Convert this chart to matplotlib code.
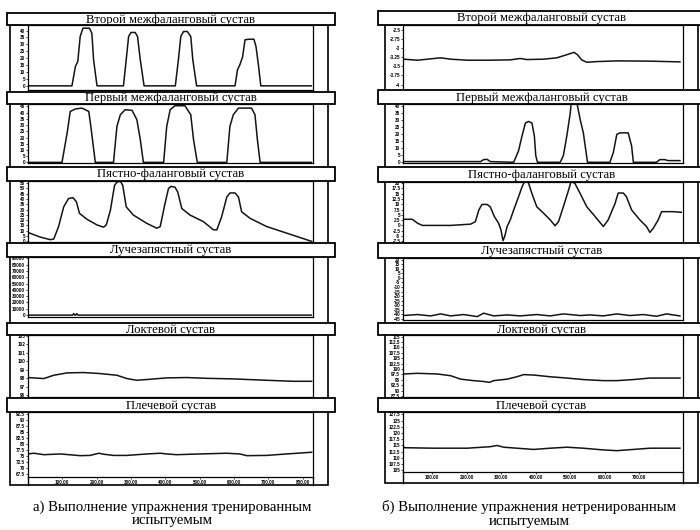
import matplotlib
matplotlib.use("Agg")
import matplotlib.pyplot as plt
from matplotlib.patches import Rectangle
from matplotlib.lines import Line2D

plt.rcParams['font.family'] = ['Liberation Serif', 'DejaVu Serif']

# названия суставов (заголовки панелей)
titles = ["Второй межфаланговый сустав", "Первый межфаланговый сустав",
          "Пястно-фаланговый сустав", "Лучезапястный сустав",
          "Локтевой сустав", "Плечевой сустав"]

caption_a = "а) Выполнение упражнения тренированным\nиспытуемым"
caption_b = "б) Выполнение упражнения нетренированным\nиспытуемым"

# ---- а) тренированный испытуемый ----
a1_x = [0, 128, 138, 145, 152, 160, 179, 186, 191, 201, 278, 288, 293, 300, 312, 319, 327, 338,
        429, 438, 445, 453, 464, 474, 480, 491, 603, 610, 617, 625, 632, 642, 658, 664, 671, 678, 825]
a1_y = [0, 0, 14, 17.6, 35.7, 41.7, 41.7, 38, 18.8, 0, 0, 23.6, 35.7, 38.6, 38.6, 35.7, 18.8, 0,
        0, 18.8, 35.7, 39.3, 39.3, 35.7, 18.8, 0, 0, 11.6, 15.2, 21, 33.3, 33.7, 33.7, 28.4, 15.2, 0, 0]

a2_x = [0, 99, 114, 123, 138, 157, 177, 183, 196, 249, 259, 269, 283, 303, 317, 327, 336,
        395, 404, 414, 428, 457, 474, 482, 493, 579, 588, 598, 613, 651, 661, 668, 676, 825]
a2_y = [0, 0, 23.7, 41, 43, 43.7, 41, 29, 0, 0, 29, 38.4, 42.4, 41.9, 34.4, 18.4, 0,
        0, 29, 42.4, 45.6, 45.6, 38.4, 18.4, 0, 0, 29, 38.4, 43.7, 43.7, 38.4, 18.4, 0, 0]

a3_x = [0, 36, 65, 75, 89, 104, 118, 131, 141, 150, 172, 201, 220, 228, 240, 252, 259, 269, 276, 286,
        307, 346, 375, 385, 399, 409, 416, 428, 436, 448, 472, 511, 540, 550, 564, 579, 588, 603, 613,
        622, 647, 695, 753, 826]
a3_y = [8.4, 4, 1.6, 2.2, 14, 32.6, 40.4, 41.3, 37.3, 26.4, 20.8, 15.5, 13.4, 15.5, 29.5, 52.8, 55.9,
        56.8, 52.8, 32.6, 24.8, 17, 12.4, 13.9, 35.7, 49.7, 51.9, 51.2, 46.6, 31, 24.8, 18.6, 10.9,
        10.9, 23.3, 41.9, 45.7, 45.7, 41.9, 28, 21.7, 14, 7.8, 0]

a4_x = [0, 130, 133, 136, 139, 142, 145, 825]
a4_y = [0, 0, 2500, 0, 0, 2500, 0, 0]

a5_x = [0, 46, 75, 114, 162, 210, 259, 288, 317, 356, 404, 462, 520, 598, 695, 772, 826]
a5_y = [98.09, 97.97, 98.36, 98.64, 98.68, 98.56, 98.36, 97.97, 97.77, 97.89, 98.05, 98.09,
        98.0, 97.93, 97.77, 97.65, 97.65]

a6_x = [0, 17, 46, 94, 152, 181, 206, 220, 249, 288, 317, 346, 385, 404, 433, 501, 579, 617, 637,
        695, 753, 826]
a6_y = [75.9, 76.2, 75.6, 75.9, 75.2, 75.3, 76.2, 75.8, 75.3, 75.3, 75.6, 75.9, 76.2, 75.9, 75.6,
        75.9, 76.2, 75.9, 75.2, 75.3, 75.9, 76.6]

# ---- б) нетренированный испытуемый ----
b1_x = [16, 57, 95, 124, 153, 201, 268, 326, 355, 374, 423, 461, 490, 511, 521, 533, 548, 577, 635, 731, 818]
b1_y = [-3.306, -3.334, -3.297, -3.269, -3.306, -3.334, -3.334, -3.325, -3.287, -3.316, -3.306,
        -3.269, -3.184, -3.119, -3.184, -3.325, -3.39, -3.372, -3.353, -3.36, -3.38]

b2_x = [16, 240, 249, 259, 268, 336, 350, 360, 370, 379, 389, 396, 400, 405, 471, 480, 490, 500,
        504, 517, 529, 538, 550, 606, 615, 625, 635, 644, 668, 678, 683, 750, 760, 774, 784, 818]
b2_y = [0.5, 0.5, 1.9, 2.1, 0.5, 0, 8.1, 18.6, 27.9, 29, 27.9, 18.6, 4.7, 0, 0, 4.7, 18.6, 34.9,
        45, 45, 30.2, 20.9, 0, 0, 0, 7, 19.8, 20.9, 20.9, 11.6, 0, 0, 1.9, 1.9, 1.2, 1.2]

b3_x = [16, 42, 57, 71, 105, 153, 182, 211, 225, 235, 244, 259, 268, 280, 292, 299, 305, 310, 317,
        326, 336, 350, 360, 368, 377, 389, 403, 423, 442, 456, 466, 480, 495, 503, 514, 529, 548, 572,
        596, 610, 630, 639, 654, 663, 678, 702, 721, 731, 741, 755, 765, 798, 822]
b3_y = [2.9, 2.9, 1.06, 0, 0, 0, 0.3, 0.6, 1.8, 7.3, 9.9, 9.9, 8.8, 4.2, 1.06, -2.05, -7.2, -5.2,
        -0.5, 2.6, 7.3, 13.5, 18.1, 21, 21, 15, 8.8, 5.7, 2.6, -0.2, 1.8, 8.8, 16.6, 21, 19.7, 15,
        8.8, 4.2, -0.5, 2.6, 10.4, 15.3, 15.3, 13.5, 7.3, 2.6, -0.5, -3.3, -1.3, 2.6, 6.5, 6.5, 6.2]

b4_x = [16, 57, 95, 124, 153, 191, 230, 249, 278, 317, 355, 403, 442, 480, 529, 557, 596, 635, 673,
        712, 750, 779, 818]
b4_y = [-41.3, -40.2, -41.7, -39.5, -41.7, -40.2, -42.5, -38.7, -41.7, -40.6, -41.7, -40.2, -41.7,
        -39.5, -41.3, -40.6, -41.7, -39.5, -41.3, -40.2, -42.1, -39.5, -41.7]

b5_x = [16, 57, 114, 153, 182, 220, 249, 266, 278, 317, 345, 365, 394, 442, 490, 538, 596, 635, 683, 731, 818]
b5_y = [97.7, 98.0, 97.7, 96.9, 95.3, 94.6, 94.2, 93.8, 94.6, 95.3, 96.4, 97.4, 97.2, 96.4, 95.8,
        95.1, 94.6, 94.6, 95.1, 95.8, 95.8]

b6_x = [16, 18, 105, 153, 201, 268, 288, 307, 345, 394, 442, 490, 538, 596, 635, 683, 731, 818]
b6_y = [114.8, 114.1, 113.9, 113.9, 113.9, 114.5, 115, 114.3, 113.9, 113.4, 113.9, 114.3, 113.9,
        113.2, 112.9, 113.4, 113.9, 113.9]

# деления осей Y
a_yticks = [[0, 5, 10, 15, 20, 25, 30, 35, 40],
            [0, 5, 10, 15, 20, 25, 30, 35, 40, 45],
            [0, 5, 10, 15, 20, 25, 30, 35, 40, 45, 50, 55],
            [0, 10000, 20000, 30000, 40000, 50000, 60000, 70000, 80000, 90000],
            [96, 97, 98, 99, 100, 101, 102, 103],
            [67.5, 70, 72.5, 75, 77.5, 80, 82.5, 85, 87.5, 90, 92.5]]
b_yticks = [[-4, -3.75, -3.5, -3.25, -3, -2.75, -2.5],
            [0, 5, 10, 15, 20, 25, 30, 35, 40],
            [-7.5, -5, -2.5, 0, 2.5, 5, 7.5, 10, 12.5, 15, 17.5, 20],
            [-45, -40, -35, -30, -25, -20, -15, -10, -5, 0, 5, 10, 15, 20],
            [87.5, 90, 92.5, 95, 97.5, 100, 102.5, 105, 107.5, 110, 112.5, 115],
            [105, 107.5, 110, 112.5, 115, 117.5, 120, 122.5, 125, 127.5]]
a_xticks = [100, 200, 300, 400, 500, 600, 700, 800]
b_xticks = [100, 200, 300, 400, 500, 600, 700]

a_series = [(a1_x, a1_y), (a2_x, a2_y), (a3_x, a3_y), (a4_x, a4_y), (a5_x, a5_y), (a6_x, a6_y)]
b_series = [(b1_x, b1_y), (b2_x, b2_y), (b3_x, b3_y), (b4_x, b4_y), (b5_x, b5_y), (b6_x, b6_y)]

a_ylims = [(-3, 44), (-0.5, 47), (-0.6, 57), (-3000, 92000), (95.8, 103.1), (66.4, 93.2)]
b_ylims = [(-4.15, -2.37), (-0.5, 41.4), (-8.3, 20.5), (-46.2, 21.9), (87.0, 115.8), (104.3, 128.5)]

W, H = 700, 530
fig = plt.figure(figsize=(7, 5.3), dpi=100)


def fx(px):
    return px / W


def fy(py):
    return 1 - py / H


def fig_line(x0, y0, x1, y1, lw=1.0):
    fig.add_artist(Line2D([fx(x0), fx(x1)], [fy(y0), fy(y1)], transform=fig.transFigure,
                          color='black', lw=lw, zorder=3))


def draw_column(series, yticks, ylims, xticks, xlim, geo, rows, caption, cap_x):
    frame_l, axis_l, axis_r, frame_r, box_l, box_r, frame_b = geo
    # внешняя рамка
    fig.add_artist(Rectangle((fx(frame_l), fy(frame_b)), fx(frame_r) - fx(frame_l),
                             fy(rows[0][1]) - fy(frame_b), transform=fig.transFigure,
                             fill=False, ec='black', lw=1.2, zorder=2))
    for i, ((xs, ys), (btop, ptop, pbot)) in enumerate(zip(series, rows)):
        ax = fig.add_axes([fx(axis_l), fy(pbot), fx(axis_r) - fx(axis_l), fy(ptop) - fy(pbot)])
        ax.plot(xs, ys, color='#141414', lw=1.1)
        ax.set_xlim(*xlim)
        ax.set_ylim(*ylims[i])
        ax.set_yticks(yticks[i])
        ax.set_yticklabels(['%g' % v for v in yticks[i]], family='Liberation Sans',
                           fontsize=3.3, fontweight='bold')
        ax.tick_params(axis='y', length=1.5, width=0.5, pad=0.5)
        for sp in ax.spines.values():
            sp.set_linewidth(0.9)
        if i == len(series) - 1:
            ax.set_xticks(xticks)
            ax.set_xticklabels(['%.2f' % v for v in xticks], family='Liberation Sans',
                               fontsize=3.3, fontweight='bold')
            ax.tick_params(axis='x', length=1.5, width=0.5, pad=1)
            fig_line(axis_l, pbot, axis_l, frame_b)
            fig_line(axis_r, pbot, axis_r, frame_b)
        else:
            ax.set_xticks([])
        # заголовок панели в рамке
        fig.add_artist(Rectangle((fx(box_l), fy(ptop)), fx(box_r) - fx(box_l),
                                 fy(btop) - fy(ptop), transform=fig.transFigure,
                                 fc='white', ec='black', lw=1.3, zorder=4))
        fig.text(fx((box_l + box_r) / 2), fy((btop + ptop) / 2 + 0.5), titles[i],
                 ha='center', va='center', fontsize=9.2, zorder=5)
    fig.text(fx(cap_x), fy(514), caption, ha='center', va='center', fontsize=10.7,
             linespacing=1.05)


a_rows = [(13, 25, 90), (92, 104, 163), (167, 181, 242), (243, 257, 317), (323, 335, 397), (398, 412, 477)]
b_rows = [(11, 25, 90), (90, 104, 163), (167, 182, 243), (243, 258, 320), (323, 335, 397), (398, 412, 472)]

draw_column(a_series, a_yticks, a_ylims, a_xticks, (0, 830),
            (10, 28, 313, 328, 7, 335, 485), a_rows, caption_a, 172)
draw_column(b_series, b_yticks, b_ylims, b_xticks, (15, 827),
            (385, 403, 683, 698, 378, 705, 483), b_rows, caption_b, 529)

fig.savefig("out.png", dpi=100, facecolor='white')
